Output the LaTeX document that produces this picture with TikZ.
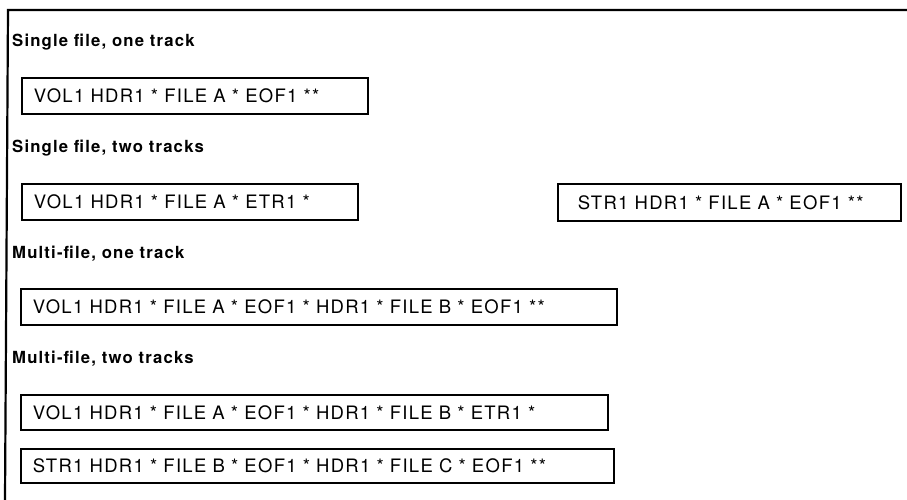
\documentclass[tikz,border=0pt]{standalone}
\usepackage{fontspec}
\setmainfont{TeX Gyre Heros}
\newfontfamily\boxfont[LetterSpace=7,WordSpace=1.6]{TeX Gyre Heros}
\newfontfamily\labfont[LetterSpace=7]{TeX Gyre Heros}
\begin{document}
\begin{tikzpicture}[x=1pt,y=-1pt,
  lab/.style={anchor=base west, inner sep=0pt, font=\labfont\bfseries\fontsize{16.7}{18}\selectfont},
  rec/.style={draw, line width=1.8pt, anchor=north west, align=left,
    inner xsep=12pt, inner ysep=0pt, font=\boxfont\fontsize{18.5}{20}\selectfont}]
\useasboundingbox (0,0) rectangle (907,500);
\coordinate (ftop) at (907,10);
\coordinate (fcorner) at (8,10);
\coordinate (fbot) at (5,500);
\draw[line width=2.2pt] (ftop) -- (fcorner) -- (fbot);

\node[lab] (h1) at (12,47) {Single file, one track};
\node[rec, text width=322pt, minimum height=36pt] (b1) at (21,77) {VOL1 HDR1 * FILE A * EOF1 **};

\node[lab] (h2) at (12,153) {Single file, two tracks};
\node[rec, text width=312pt, minimum height=36pt] (b2) at (21,183) {VOL1 HDR1 * FILE A * ETR1 *};
\node[rec, inner xsep=20pt, text width=303pt, minimum height=37pt] (b2b) at (557,183) {STR1 HDR1 * FILE A * EOF1 **};

\node[lab] (h3) at (12,258) {Multi-file, one track};
\node[rec, text width=572pt, minimum height=36pt] (b3) at (20,288) {VOL1 HDR1 * FILE A * EOF1 * HDR1 * FILE B * EOF1 **};

\node[lab] (h4) at (12,363) {Multi-file, two tracks};
\node[rec, text width=563pt, minimum height=35pt] (b4) at (20,394) {VOL1 HDR1 * FILE A * EOF1 * HDR1 * FILE B * ETR1 *};
\node[rec, text width=569pt, minimum height=34pt] (b5) at (20,448) {STR1 HDR1 * FILE B * EOF1 * HDR1 * FILE C * EOF1 **};
\end{tikzpicture}
\end{document}
